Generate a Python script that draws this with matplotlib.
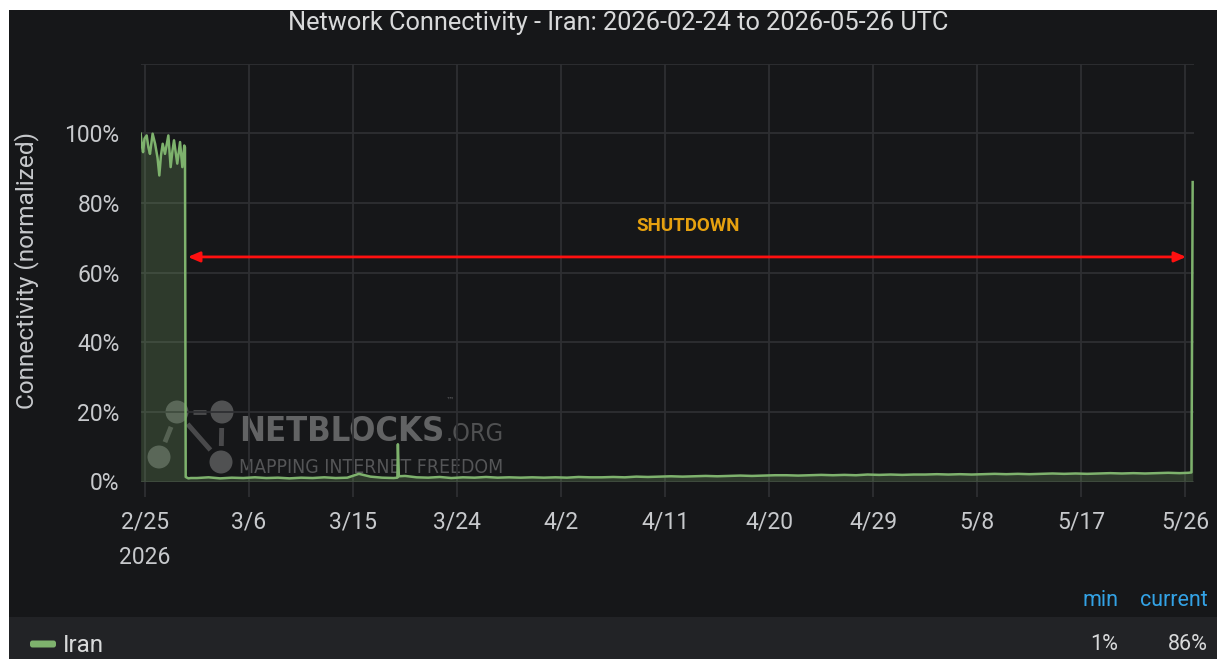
import matplotlib
matplotlib.use('Agg')
import matplotlib.pyplot as plt
import pandas as pd
from matplotlib.patches import Rectangle, FancyBboxPatch, Circle

plt.rcParams['font.family'] = ['Roboto', 'DejaVu Sans']

# ---------------- data ----------------
title = "Network Connectivity - Iran: 2026-02-24 to 2026-05-26 UTC"
country = "Iran"

# pre-shutdown (diurnal oscillation) and transition
pre_times = ['2026-02-24 15:00', '2026-02-24 17:30', '2026-02-24 20:00', '2026-02-24 23:00',
             '2026-02-25 03:30', '2026-02-25 07:00', '2026-02-25 10:20', '2026-02-25 15:50',
             '2026-02-25 21:00', '2026-02-26 02:00', '2026-02-26 05:45', '2026-02-26 09:00',
             '2026-02-26 12:45', '2026-02-26 17:30', '2026-02-27 00:30', '2026-02-27 05:15',
             '2026-02-27 09:00', '2026-02-27 12:15', '2026-02-27 19:00', '2026-02-28 00:45',
             '2026-02-28 05:30', '2026-02-28 09:30', '2026-02-28 11:00', '2026-02-28 12:30',
             '2026-02-28 18:00', '2026-02-28 23:00']
pre_values = [99.9, 96.5, 94.6, 98.5,
              99.4, 96.0, 94.1, 99.9,
              97.0, 93.0, 87.9, 93.5,
              97.0, 94.1, 99.4, 90.3,
              95.0, 98.0, 91.3, 97.5,
              90.3, 96.5, 96.0, 1.3,
              0.9, 1.0]

# shutdown period, daily readings (noon UTC) 2026-03-01 .. 2026-05-25
daily_start = '2026-03-01 12:00'
daily_end = '2026-05-25 12:00'
daily_values = [
    # March
    1.0, 1.2, 0.9, 1.1, 1.0, 1.2, 1.0, 1.1, 0.9, 1.1, 1.0, 1.2, 1.0, 1.1, 2.2, 1.4,
    1.1, 1.0, 1.6, 1.2, 1.1, 1.3, 1.0, 1.2, 1.1, 1.3, 1.1, 1.2, 1.1, 1.2, 1.1,
    # April
    1.2, 1.1, 1.3, 1.2, 1.2, 1.3, 1.2, 1.4, 1.3, 1.4, 1.5, 1.4, 1.5, 1.6, 1.5,
    1.6, 1.7, 1.6, 1.7, 1.8, 1.8, 1.7, 1.8, 1.9, 1.8, 1.9, 1.8, 2.0, 1.9, 2.0,
    # May
    1.9, 2.0, 2.0, 2.1, 2.0, 2.1, 2.0, 2.1, 2.2, 2.1, 2.2, 2.1, 2.2, 2.3, 2.2,
    2.3, 2.2, 2.3, 2.4, 2.3, 2.4, 2.3, 2.4, 2.5, 2.4]

# short events: 3/18 spike and final restoration
event_times = ['2026-03-18 20:00', '2026-03-18 21:00', '2026-03-18 23:00',
               '2026-05-26 06:00', '2026-05-26 12:30', '2026-05-26 15:00']
event_values = [1.1, 10.7, 1.5,
                2.5, 2.6, 86.0]

x_tick_dates = ['2026-02-25', '2026-03-06', '2026-03-15', '2026-03-24', '2026-04-02',
                '2026-04-11', '2026-04-20', '2026-04-29', '2026-05-08', '2026-05-17',
                '2026-05-26']
x_tick_labels = ['2/25\n2026', '3/6', '3/15', '3/24', '4/2', '4/11', '4/20', '4/29',
                 '5/8', '5/17', '5/26']
y_ticks = [0, 20, 40, 60, 80, 100, 120]
y_tick_labels = ['0%', '20%', '40%', '60%', '80%', '100%', '']

x_range = ('2026-02-24 14:40', '2026-05-26 17:45')
y_range = (0, 120)

shutdown_label = 'SHUTDOWN'
shutdown_from = '2026-02-28 17:00'
shutdown_to = '2026-05-26 01:30'
shutdown_level = 64.5
shutdown_label_pos = ('2026-04-13 00:00', 73.4)

# ---------------- assemble series ----------------
daily_times = pd.date_range(daily_start, daily_end, freq='D')
series = pd.concat([
    pd.Series(pre_values, index=pd.to_datetime(pre_times)),
    pd.Series(daily_values, index=daily_times),
    pd.Series(event_values, index=pd.to_datetime(event_times)),
]).sort_index()

stat_min = f"{series.min():.0f}%"
stat_current = f"{series.iloc[-1]:.0f}%"

# ---------------- figure ----------------
W, H = 1217, 659
fig = plt.figure(figsize=(W / 100, H / 100), dpi=100, facecolor='white')
renderer = fig.canvas.get_renderer()

bg = fig.add_axes([0, 0, 1, 1], zorder=0)
bg.set_xlim(0, W)
bg.set_ylim(H, 0)
bg.axis('off')
bg.add_patch(Rectangle((9, 10), W - 9, H - 10, facecolor='#161719', edgecolor='none'))
bg.add_patch(Rectangle((9, 617), W - 9, H - 617, facecolor='#222326', edgecolor='none'))

TXT = '#d8d9da'
bg.text(618, 23, title, ha='center', va='center', color=TXT, fontsize=18.3)
bg.text(27, 270, 'Connectivity (normalized)', ha='center', va='center', rotation=90,
        color='#c7c9cc', fontsize=17.6)


def fit_text(x, y, s, width_px, **kw):
    t = bg.text(x, y, s, **kw)
    w = t.get_window_extent(renderer).width
    t.set_fontsize(t.get_fontsize() * width_px / w)
    return t


# watermark (behind data)
wm = 'white'
nodes = [(177, 412), (222, 412), (159, 457), (221, 462)]
for a, b in [(0, 1), (0, 2), (0, 3), (1, 3)]:
    (x1, y1), (x2, y2) = nodes[a], nodes[b]
    dx, dy = x2 - x1, y2 - y1
    L = (dx ** 2 + dy ** 2) ** 0.5
    g = 16 / L
    bg.plot([x1 + dx * g, x2 - dx * g], [y1 + dy * g, y2 - dy * g], color=wm, alpha=0.22,
            lw=3.5, solid_capstyle='butt')
for (cx, cy) in nodes:
    bg.add_patch(Circle((cx, cy), 11.5, facecolor=wm, alpha=0.25, edgecolor='none'))
narrow = ['Liberation Sans Narrow', 'DejaVu Sans']
fit_text(239, 441, 'NETBLOCKS', 205, ha='left', va='baseline', color=wm, alpha=0.33,
         fontsize=30, fontweight='bold', family=narrow, fontstretch='condensed')
fit_text(446, 441, '.ORG', 58, ha='left', va='baseline', color=wm, alpha=0.25,
         fontsize=20, family=narrow, fontstretch='condensed')
bg.text(446, 403, '™', ha='left', va='baseline', color=wm, alpha=0.3, fontsize=6,
        family=narrow)
fit_text(239, 473, 'MAPPING INTERNET FREEDOM', 266, ha='left', va='baseline', color=wm,
         alpha=0.27, fontsize=15, family=narrow, fontstretch='condensed')

# legend band
bg.add_patch(FancyBboxPatch((30, 640.5), 26, 7, boxstyle='round,pad=0,rounding_size=2.5',
                            facecolor='#7eb26d', edgecolor='none'))
bg.text(63, 645, country, ha='left', va='center', color=TXT, fontsize=17.5)
bg.text(1118, 601, 'min', ha='right', va='center', color='#33a2e5', fontsize=15.5)
bg.text(1208, 601, 'current', ha='right', va='center', color='#33a2e5', fontsize=15.5)
bg.text(1118, 645, stat_min, ha='right', va='center', color=TXT, fontsize=15.5)
bg.text(1208, 645, stat_current, ha='right', va='center', color=TXT, fontsize=15.5)

# main plot
left, right, top, bottom = 140.5, 1194, 63.7, 481.5
ax = fig.add_axes([left / W, (H - bottom) / H, (right - left) / W, (bottom - top) / H],
                  zorder=2)
ax.set_facecolor('none')
for s in ax.spines.values():
    s.set_visible(False)

GREEN = '#7eb26d'
ax.fill_between(series.index, series.values, 0, color=GREEN, alpha=0.23, lw=0)
ax.plot(series.index, series.values, color=GREEN, lw=1.8)

ax.set_xlim(pd.Timestamp(x_range[0]), pd.Timestamp(x_range[1]))
ax.set_ylim(*y_range)
ax.set_xticks(pd.to_datetime(x_tick_dates))
ax.set_xticklabels(x_tick_labels, linespacing=1.7)
ax.set_yticks(y_ticks)
ax.set_yticklabels(y_tick_labels)
GRID = '#2e2f32'
ax.grid(True, color=GRID, lw=1.3)
ax.set_axisbelow(True)
ax.tick_params(axis='x', colors=GRID, labelcolor='#c7c9cc', labelsize=16.5, length=11,
               width=1.3, pad=10)
ax.tick_params(axis='y', length=0, labelcolor='#c7c9cc', labelsize=16.5, pad=15)

ax.annotate('', xy=(pd.Timestamp(shutdown_to), shutdown_level),
            xytext=(pd.Timestamp(shutdown_from), shutdown_level),
            arrowprops=dict(arrowstyle='<|-|>,head_length=0.7,head_width=0.3',
                            color='#ff1010', lw=2, shrinkA=0, shrinkB=0))
ax.text(pd.Timestamp(shutdown_label_pos[0]), shutdown_label_pos[1], shutdown_label,
        ha='center', va='center', color='#e6a10f', fontsize=13.5, fontweight='bold')

fig.savefig('out.png', dpi=100, facecolor=fig.get_facecolor())
